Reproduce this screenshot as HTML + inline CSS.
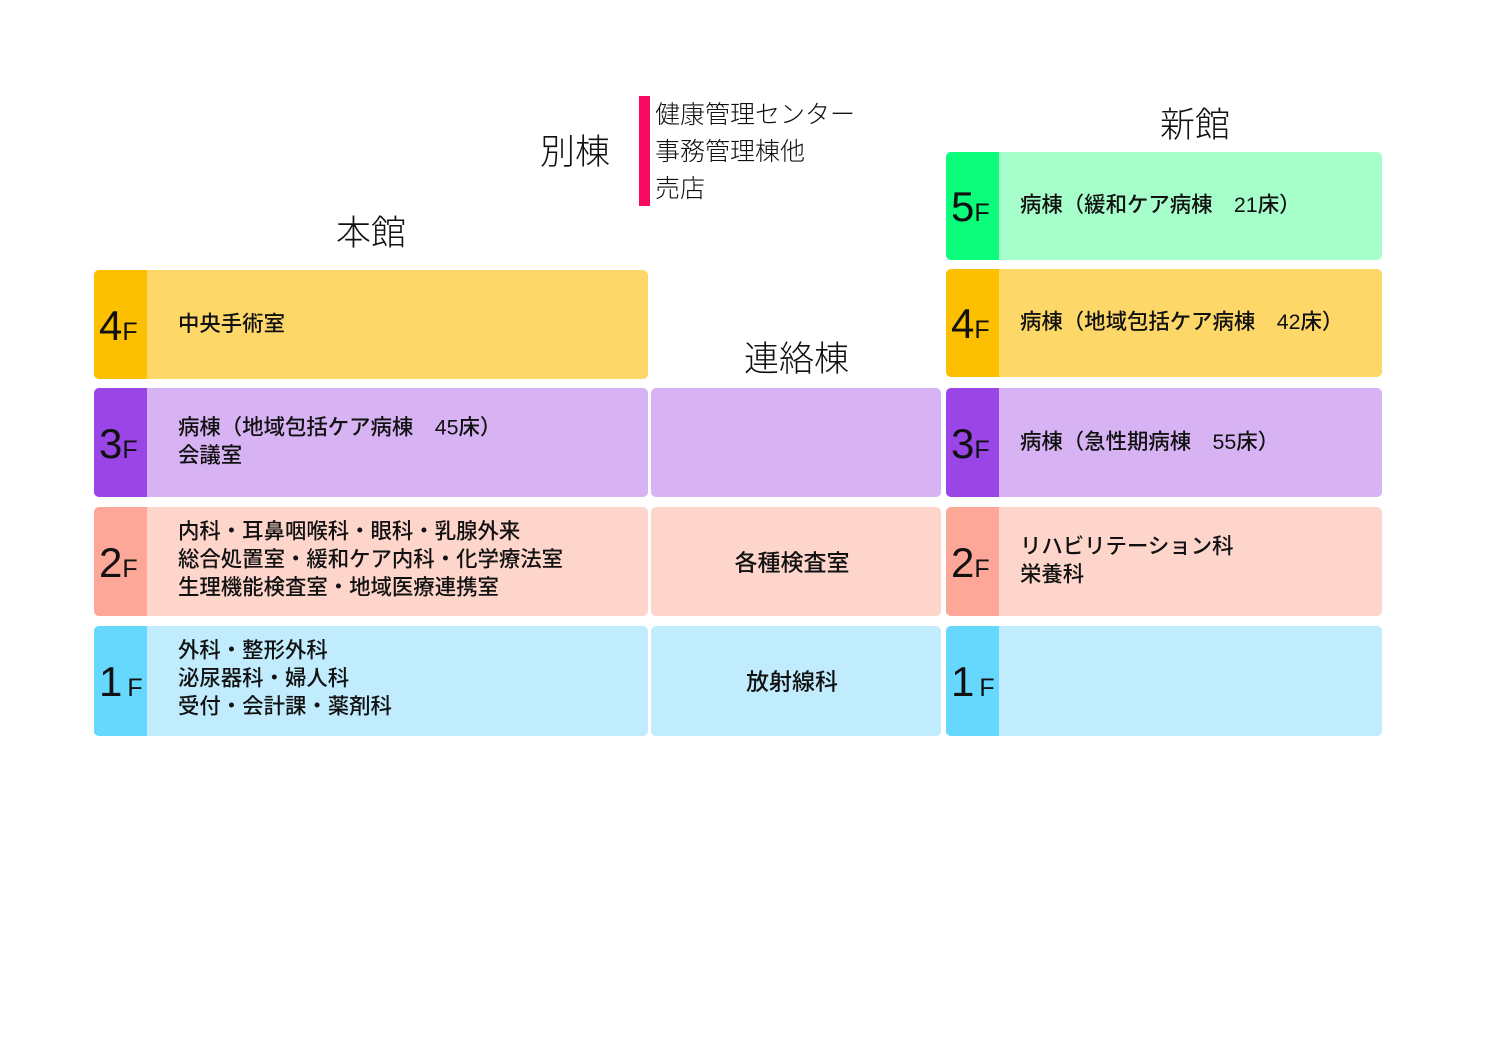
<!DOCTYPE html>
<html><head><meta charset="utf-8"><style>
body{margin:0;width:1497px;height:1058px;background:#fff;position:relative;overflow:hidden;font-family:"Liberation Sans","Noto Sans CJK JP",sans-serif;color:#111}
.b{position:absolute;border-radius:5px;overflow:hidden}
.t{position:absolute;left:0;top:0;bottom:0;width:53px}
.n{position:absolute;left:5px;top:50%;transform:translateY(-48%);white-space:nowrap;line-height:1}
.n b{font-weight:normal;font-size:42px}
.n i{font-style:normal;font-size:25px}
.n i.s{margin-left:5px}
.x{position:absolute;left:84px;top:50%;transform:translateY(-53%);font-size:21.4px;line-height:28px;font-weight:500;white-space:nowrap}
.c{position:absolute;left:0;right:0;top:50%;transform:translateY(-55%);text-align:center;font-size:23px;font-weight:500;padding-right:8px}
.h{position:absolute;font-size:35px;line-height:1;font-family:"Noto Sans CJK JP",sans-serif;font-weight:300}
.y{background:#fdd868}.y .t{background:#fdc000}
.p{background:#d7b3f4}.p .t{background:#9a45e6}
.k{background:#fdd5cb}.k .t{background:#fca797}
.u{background:#c0ecfd}.u .t{background:#66d7fd}
.g{background:#a6fecb}.g .t{background:#0bfd7b}
</style></head><body>
<div class="h" style="left:336px;top:213px">本館</div>
<div class="h" style="left:540px;top:132px">別棟</div>
<div class="h" style="left:744px;top:339px">連絡棟</div>
<div class="h" style="left:1160px;top:105px">新館</div>
<div style="position:absolute;left:639px;top:96px;width:11px;height:110px;background:#f8085f"></div>
<div style="position:absolute;left:655px;top:95px;font-size:25px;line-height:37px;font-family:'Noto Sans CJK JP',sans-serif;font-weight:300">健康管理センター<br>事務管理棟他<br>売店</div>

<div class="b y" style="left:94px;top:270px;width:554px;height:109px"><div class="t"></div><div class="n"><b>4</b><i>F</i></div><div class="x">中央手術室</div></div>
<div class="b p" style="left:94px;top:388px;width:554px;height:109px"><div class="t"></div><div class="n"><b>3</b><i>F</i></div><div class="x">病棟（地域包括ケア病棟　45床）<br>会議室</div></div>
<div class="b k" style="left:94px;top:507px;width:554px;height:109px"><div class="t"></div><div class="n"><b>2</b><i>F</i></div><div class="x">内科・耳鼻咽喉科・眼科・乳腺外来<br>総合処置室・緩和ケア内科・化学療法室<br>生理機能検査室・地域医療連携室</div></div>
<div class="b u" style="left:94px;top:626px;width:554px;height:110px"><div class="t"></div><div class="n"><b>1</b><i class="s">F</i></div><div class="x">外科・整形外科<br>泌尿器科・婦人科<br>受付・会計課・薬剤科</div></div>

<div class="b p" style="left:651px;top:388px;width:290px;height:109px"></div>
<div class="b k" style="left:651px;top:507px;width:290px;height:109px"><div class="c">各種検査室</div></div>
<div class="b u" style="left:651px;top:626px;width:290px;height:110px"><div class="c">放射線科</div></div>

<div class="b g" style="left:946px;top:152px;width:436px;height:108px"><div class="t"></div><div class="n"><b>5</b><i>F</i></div><div class="x" style="left:74px">病棟（緩和ケア病棟　21床）</div></div>
<div class="b y" style="left:946px;top:269px;width:436px;height:108px"><div class="t"></div><div class="n"><b>4</b><i>F</i></div><div class="x" style="left:74px">病棟（地域包括ケア病棟　42床）</div></div>
<div class="b p" style="left:946px;top:388px;width:436px;height:109px"><div class="t"></div><div class="n"><b>3</b><i>F</i></div><div class="x" style="left:74px">病棟（急性期病棟　55床）</div></div>
<div class="b k" style="left:946px;top:507px;width:436px;height:109px"><div class="t"></div><div class="n"><b>2</b><i>F</i></div><div class="x" style="left:74px">リハビリテーション科<br>栄養科</div></div>
<div class="b u" style="left:946px;top:626px;width:436px;height:110px"><div class="t"></div><div class="n"><b>1</b><i class="s">F</i></div></div>
</body></html>
